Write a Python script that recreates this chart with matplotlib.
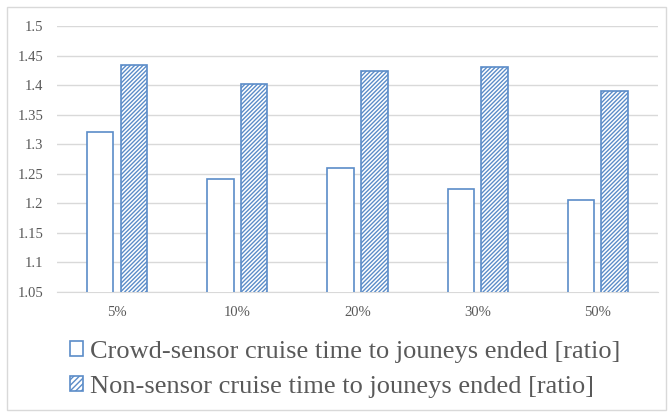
import numpy as np
import matplotlib.pyplot as plt
from matplotlib.patches import Patch

# values
categories = ["5%", "10%", "20%", "30%", "50%"]
crowd = [1.321, 1.241, 1.260, 1.225, 1.205]
non_sensor = [1.434, 1.402, 1.424, 1.431, 1.390]
labels = ["Crowd-sensor cruise time to jouneys ended [ratio]",
          "Non-sensor cruise time to jouneys ended [ratio]"]

blue = "#5B8CC8"
grey_txt = "#595959"
plt.rcParams['font.family'] = ['Liberation Serif', 'DejaVu Serif']
plt.rcParams['hatch.linewidth'] = 1.0
plt.rcParams['hatch.color'] = blue

fig = plt.figure(figsize=(6.72, 4.17), dpi=100)
ax = fig.add_axes([0.0848, 0.2998, 0.8943, 0.6378])

x = np.arange(len(categories))
w = 0.22
ax.bar(x - 0.14, crowd, w, color="white", edgecolor=blue, linewidth=1.2, zorder=3)
ax.bar(x + 0.14, non_sensor, w, color="white", edgecolor=blue, linewidth=1.2,
       hatch="////////", zorder=3)

ax.set_xlim(-0.5, len(categories) - 0.5)
ax.set_ylim(1.05, 1.5)
ax.set_yticks(np.arange(1.05, 1.501, 0.05))
ax.set_yticklabels(["1.05", "1.1", "1.15", "1.2", "1.25", "1.3", "1.35", "1.4", "1.45", "1.5"])
ax.set_xticks(x)
ax.set_xticklabels(categories)
ax.grid(axis="y", color="#d9d9d9", linewidth=1, zorder=0)
for s in ["top", "right", "left"]:
    ax.spines[s].set_visible(False)
ax.spines["bottom"].set_color("#d9d9d9")
ax.tick_params(axis="both", length=0, labelsize=10.5, colors=grey_txt)
ax.tick_params(axis="x", pad=10)
ax.tick_params(axis="y", pad=10)

handles = [Patch(facecolor="white", edgecolor=blue, linewidth=1.2),
           Patch(facecolor="white", edgecolor=blue, linewidth=1.2, hatch="//////")]
leg = fig.legend(handles, labels, loc="upper left", bbox_to_anchor=(0.104, 0.183),
                 frameon=False, fontsize=19, handlelength=0.5, handleheight=0.5,
                 handletextpad=0.25, labelspacing=0.5, borderaxespad=0, borderpad=0)
for t in leg.get_texts():
    t.set_color(grey_txt)

# outer chart border
fig.patches.append(plt.Rectangle((0.011, 0.017), 0.98, 0.966, transform=fig.transFigure,
                                 fill=False, edgecolor="#d9d9d9", linewidth=1))

fig.savefig("out.png", dpi=100)
